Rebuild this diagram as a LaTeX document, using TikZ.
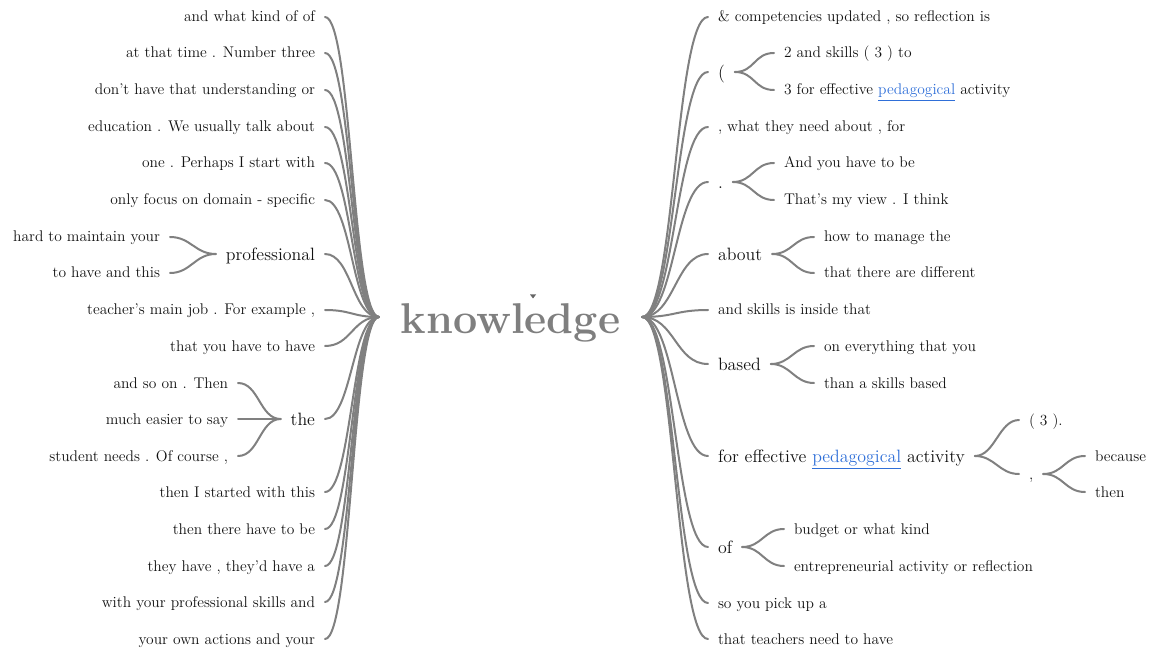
\documentclass[tikz,border=0pt]{standalone}
\definecolor{ink}{HTML}{111111}
\definecolor{edgegray}{HTML}{808080}
\definecolor{rootgray}{HTML}{7F7F7F}
\definecolor{linkblue}{HTML}{2F6FD8}
\newcommand\pedlink[1]{\textcolor{linkblue}{\underline{#1}}}
\begin{document}
\begin{tikzpicture}[x=0.75pt,y=-0.75pt,
  word/.style={text=ink, inner xsep=7.5pt, inner ysep=0pt, outer sep=0pt},
  leaf/.style={word, font=\fontsize{11.6}{14}\selectfont,
    text height=8.5pt, text depth=1pt},
  mid/.style={word, font=\fontsize{13.4}{16}\selectfont,
    text height=11pt, text depth=1pt},
  rootword/.style={text=rootgray, font=\fontsize{32.3}{35}\selectfont\bfseries,
    inner xsep=16.5pt, inner ysep=0pt, outer sep=0pt,
    text height=30pt, text depth=5.6pt},
  edge/.style={draw=edgegray, line width=1.5pt, line cap=round}]
\useasboundingbox (0,0) rectangle (1153,652);

% central word
\node[rootword] (root) at (510.5,317) {knowledge};
\fill[rootgray!80!black] (530,294.5) -- (536,294.5) -- (533,298.5) -- cycle;

% ---------- left branches (text ends at x = 317) ----------
\node[leaf, anchor=east] (L1)  at (325,17)  {and what kind of of};
\node[leaf, anchor=east] (L2)  at (325,53)  {at that time . Number three};
\node[leaf, anchor=east] (L3)  at (325,90)  {don't have that understanding or};
\node[leaf, anchor=east] (L4)  at (325,127) {education . We usually talk about};
\node[leaf, anchor=east] (L5)  at (325,163) {one . Perhaps I start with};
\node[leaf, anchor=east] (L6)  at (325,200) {only focus on domain - specific};
\node[mid,  anchor=east] (L7)  at (325,254) {professional};
\node[leaf, anchor=east] (L7a) at (170,237) {hard to maintain your};
\node[leaf, anchor=east] (L7b) at (170,273) {to have and this};
\node[leaf, anchor=east] (L8)  at (325,310) {teacher's main job . For example ,};
\node[leaf, anchor=east] (L9)  at (325,346) {that you have to have};
\node[mid,  anchor=east] (L10) at (325,419) {the};
\node[leaf, anchor=east] (L10a) at (238,383) {and so on . Then};
\node[leaf, anchor=east] (L10b) at (238,419) {much easier to say};
\node[leaf, anchor=east] (L10c) at (238,456) {student needs . Of course ,};
\node[leaf, anchor=east] (L11) at (325,492) {then I started with this};
\node[leaf, anchor=east] (L12) at (325,529) {then there have to be};
\node[leaf, anchor=east] (L13) at (325,566) {they have , they'd have a};
\node[leaf, anchor=east] (L14) at (325,602) {with your professional skills and};
\node[leaf, anchor=east] (L15) at (325,639) {your own actions and your};

% ---------- right branches (text starts at x = 718) ----------
\node[leaf, anchor=west] (R1)  at (708,17)  {\& competencies updated , so reflection is};
\node[mid,  anchor=west] (R2)  at (708,72)  {(};
\node[leaf, anchor=west] (R2a) at (774,53)  {2 and skills ( 3 ) to};
\node[leaf, anchor=west] (R2b) at (774,90)  {3 for effective \pedlink{pedagogical} activity};
\node[leaf, anchor=west] (R3)  at (708,127) {, what they need about , for};
\node[mid,  anchor=west] (R4)  at (708,182) {.};
\node[leaf, anchor=west] (R4a) at (774,163) {And you have to be};
\node[leaf, anchor=west] (R4b) at (774,200) {That's my view . I think};
\node[mid,  anchor=west] (R5)  at (708,254) {about};
\node[leaf, anchor=west] (R5a) at (814,237) {how to manage the};
\node[leaf, anchor=west] (R5b) at (814,273) {that there are different};
\node[leaf, anchor=west] (R6)  at (708,310) {and skills is inside that};
\node[mid,  anchor=west] (R7)  at (708,364) {based};
\node[leaf, anchor=west] (R7a) at (814,346) {on everything that you};
\node[leaf, anchor=west] (R7b) at (814,383) {than a skills based};
\node[mid,  anchor=west] (R8)  at (708,456) {for effective \pedlink{pedagogical} activity};
\node[leaf, anchor=west] (R8a) at (1019,420) {( 3 ).};
\node[leaf, anchor=west] (R8b) at (1019,474) {,};
\node[leaf, anchor=west] (R8b1) at (1085,456) {because};
\node[leaf, anchor=west] (R8b2) at (1085,492) {then};
\node[mid,  anchor=west] (R9)  at (708,547) {of};
\node[leaf, anchor=west] (R9a) at (784,529) {budget or what kind};
\node[leaf, anchor=west] (R9b) at (784,566) {entrepreneurial activity or reflection};
\node[leaf, anchor=west] (R10) at (708,603) {so you pick up a};
\node[leaf, anchor=west] (R11) at (708,639) {that teachers need to have};

% ---------- connectors ----------
\foreach \n in {L1,L2,L3,L4,L5,L6,L7,L8,L9,L10,L11,L12,L13,L14,L15}
  \draw[edge] (\n.east) .. controls +(26.5,0) and +(-26.5,0) .. (root.west);
\foreach \n in {R1,R2,R3,R4,R5,R6,R7,R8,R9,R10,R11}
  \draw[edge] (root.east) .. controls +(32.5,0) and +(-32.5,0) .. (\n.west);

\foreach \p/\c in {L7/L7a,L7/L7b,L10/L10a,L10/L10b,L10/L10c}
  \draw[edge] (\p.west) .. controls +(-21,0) and +(21,0) .. (\c.east);
\foreach \p/\c in {R2/R2a,R2/R2b,R4/R4a,R4/R4b,R5/R5a,R5/R5b,R7/R7a,R7/R7b,
                   R8/R8a,R8/R8b,R8b/R8b1,R8b/R8b2,R9/R9a,R9/R9b}
  \draw[edge] (\p.east) .. controls +(20,0) and +(-20,0) .. (\c.west);
\end{tikzpicture}
\end{document}
